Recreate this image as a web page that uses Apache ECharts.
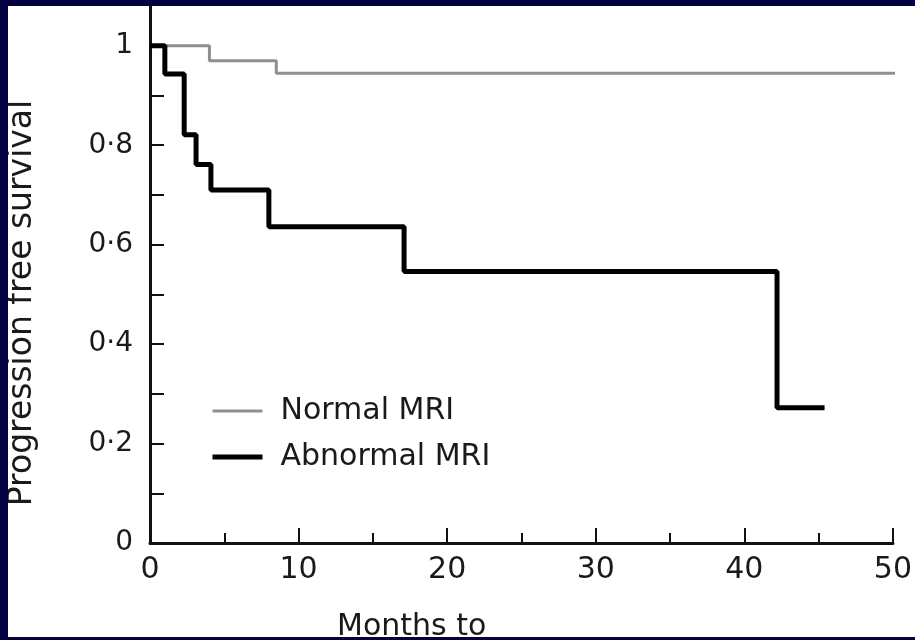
<!DOCTYPE html>
<html>
<head>
<meta charset="utf-8">
<script src="https://cdn.jsdelivr.net/npm/echarts@6/dist/echarts.min.js"></script>
<style>
	body { margin: 0; background: #03013f; width: 915px; height: 640px; overflow: hidden; }
	#chart { position: absolute; left: 8px; top: 6px; width: 907px; height: 631px; background: #fff; }
</style>
</head>
<body>
<div id="chart"></div>
<script>
// 数据
const normalMonths = [0, 4.0, 8.5, 51]
const normalSurv = [1, 0.970, 0.945, 0.945]
const abnormalMonths = [0, 1.0, 2.3, 3.1, 4.1, 8.0, 17.1, 42.2, 45.4]
const abnormalSurv = [1, 0.943, 0.821, 0.761, 0.71, 0.636, 0.546, 0.272, 0.272]
const xTicks = [0, 10, 20, 30, 40, 50]
const yLabels = [0, 0.2, 0.4, 0.6, 0.8, 1]
const yTicks = [0, 0.1, 0.2, 0.3, 0.4, 0.5, 0.6, 0.7, 0.8, 0.9, 1]

const font = 'DejaVu Sans'

function pairs(xs, ys) {
	const out = []
	for (let i = 0; i < xs.length; i++) {
		out.push([xs[i], ys[i]])
	}
	return out
}

var myChart = echarts.init(document.getElementById('chart'))
var option = {
	animation: false,
	grid: {
		left: 142,
		right: 12,
		top: 0,
		bottom: 94
	},
	legend: {
		orient: 'vertical',
		left: 197,
		top: 385,
		itemWidth: 50,
		itemHeight: 14,
		itemGap: 16,
		itemStyle: { opacity: 0 },
		data: [
			{ name: 'Normal MRI', lineStyle: { width: 3, color: '#8f8f8f' } },
			{ name: 'Abnormal MRI', lineStyle: { width: 5, color: '#000' } }
		],
		textStyle: {
			fontFamily: font,
			fontSize: 30,
			color: '#1a1a1a',
			padding: [0, 0, 0, 13]
		}
	},
	xAxis: {
		type: 'value',
		min: 0,
		max: 50,
		interval: 10,
		axisLine: { show: true, lineStyle: { color: '#111', width: 3 } },
		axisTick: { show: true, inside: true, length: 15, lineStyle: { color: '#111', width: 2 } },
		minorTick: { show: true, splitNumber: 2, length: 10, lineStyle: { color: '#111', width: 2 } },
		splitLine: { show: false },
		axisLabel: {
			margin: 12,
			fontFamily: font,
			fontSize: 30,
			color: '#1a1a1a',
			customValues: xTicks
		}
	},
	yAxis: {
		type: 'value',
		min: 0,
		max: 1.08,
		axisLine: { show: true, lineStyle: { color: '#111', width: 3 } },
		axisTick: {
			show: true,
			inside: true,
			length: 14,
			lineStyle: { color: '#111', width: 2 },
			customValues: yTicks
		},
		splitLine: { show: false },
		axisLabel: {
			margin: 17,
			fontFamily: font,
			fontSize: 28,
			color: '#1a1a1a',
			customValues: yLabels,
			formatter: function(v) {
				return String(v).replace('.', '·')
			}
		}
	},
	graphic: [{
		type: 'text',
		left: 337 - 8,
		top: 612 - 6,
		style: {
			text: 'Months to',
			font: '30px "DejaVu Sans"',
			fill: '#1a1a1a'
		}
	}, {
		type: 'text',
		x: 14,
		y: 297,
		rotation: Math.PI / 2,
		style: {
			text: 'Progression free survival',
			font: '33px "DejaVu Sans"',
			fill: '#1a1a1a',
			align: 'center',
			verticalAlign: 'middle'
		}
	}],
	series: [{
		name: 'Normal MRI',
		type: 'line',
		step: 'end',
		symbol: 'none',
		clip: false,
		lineStyle: { color: '#8f8f8f', width: 3 },
		itemStyle: { color: '#8f8f8f' },
		data: pairs(normalMonths, normalSurv)
	}, {
		name: 'Abnormal MRI',
		type: 'line',
		step: 'end',
		symbol: 'none',
		lineStyle: { color: '#000', width: 5 },
		itemStyle: { color: '#000' },
		data: pairs(abnormalMonths, abnormalSurv)
	}]
}
myChart.setOption(option)
</script>
</body>
</html>
